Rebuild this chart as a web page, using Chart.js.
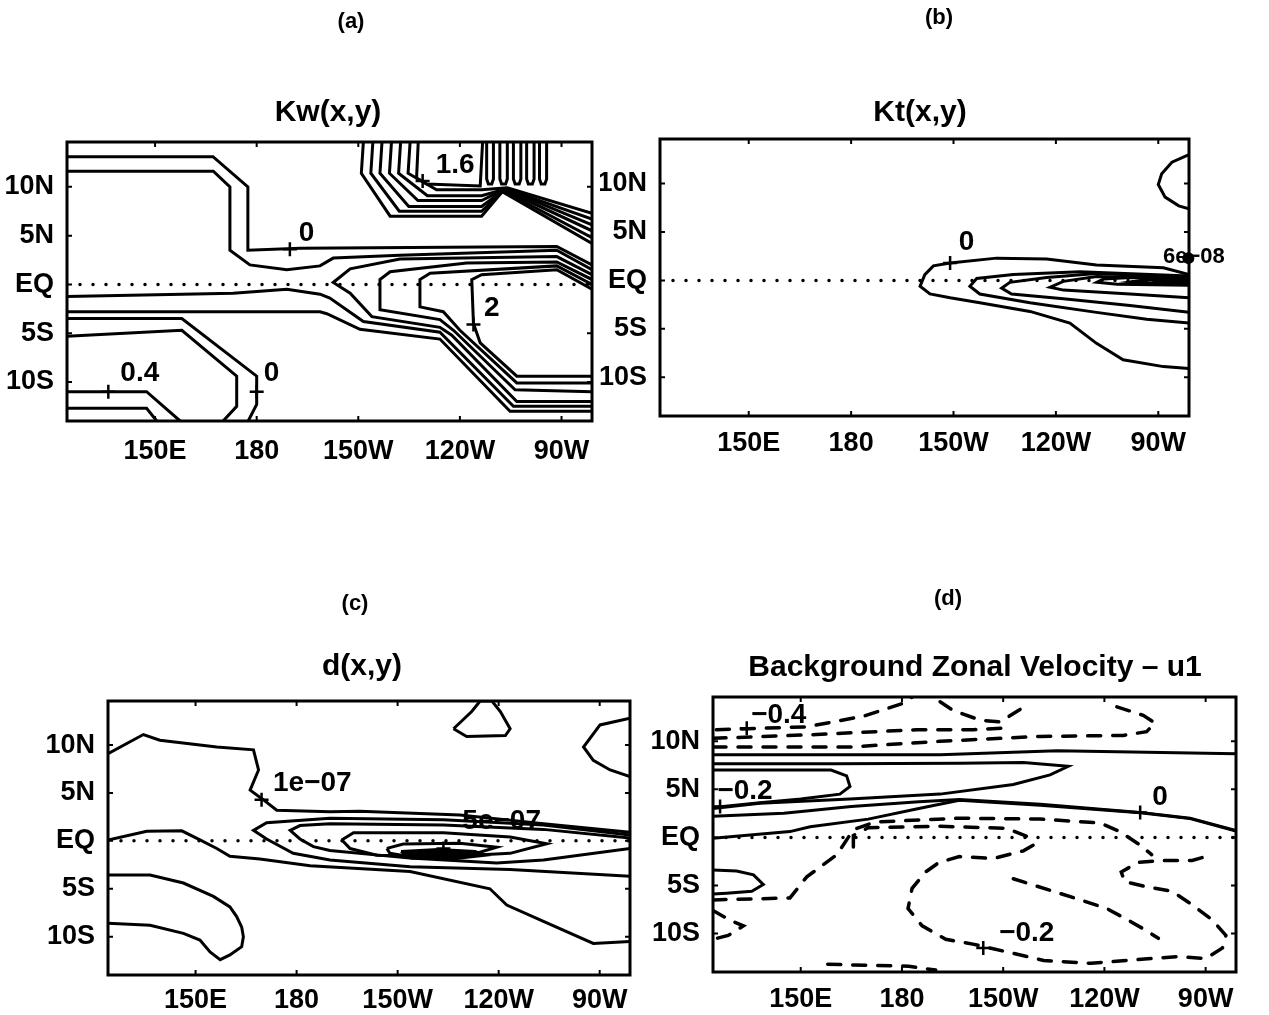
<!DOCTYPE html>
<html>
<head>
<meta charset="utf-8">
<title>Kw, Kt, d and background zonal velocity</title>
<script src="https://cdn.jsdelivr.net/npm/chart.js@4.4.1/dist/chart.umd.min.js"></script>
<style>
  html, body { margin: 0; padding: 0; background: #fff; }
  body { width: 1269px; height: 1015px; position: relative; overflow: hidden; }
  .panel { position: absolute; }
</style>
</head>
<body>
<div class="panel" style="left:0;top:0;width:640px;height:480px"><canvas id="kw"></canvas></div>
<div class="panel" style="left:600px;top:0;width:669px;height:480px"><canvas id="kt"></canvas></div>
<div class="panel" style="left:40px;top:560px;width:640px;height:455px"><canvas id="dd"></canvas></div>
<div class="panel" style="left:650px;top:560px;width:619px;height:455px"><canvas id="u1"></canvas></div>
<script>
// axes shared by all four maps (longitude in degrees east, latitude in degrees)
const lonRange = [124, 279];
const latRange = [-14, 14.6];
const lonTicks = [150, 180, 210, 240, 270];
const lonLabels = ['150E', '180', '150W', '120W', '90W'];
const latTicks = [-10, -5, 0, 5, 10];
const latLabels = ['10S', '5S', 'EQ', '5N', '10N'];
const equator = [[124, 0], [279, 0]];

// (a) Kw(x,y) contours, [lon, lat]
const kwNorth0 = [[124,13.1],[167.1,13.1],[177.4,10.0],[177.4,3.5],[192.8,3.7],[268.6,3.9],[279,2.0]];
const kwNorth1 = [[124,11.6],[167.2,11.6],[172.1,10.0],[172.1,3.5],[178,2.0],[188.9,1.5],[198.7,1.9],[202.6,2.7],[222.3,3.0],[268.6,3.5],[279,1.5]];
const kwTongue1 = [[279,1.0],[268.6,2.85],[222.3,2.6],[207.6,1.6],[202.6,0.2],[207.6,-0.9],[214,-3.3],[234.1,-4.4],[237.6,-5.2],[256.8,-12.0],[279,-12.0]];
const kwTongue2 = [[279,0.5],[268.6,2.3],[242,2.2],[219.4,1.3],[216.4,0.5],[216.4,-2.6],[234.1,-3.6],[238.1,-4.7],[256.3,-10.8],[279,-11.0]];
const kwTongue3 = [[279,0.0],[268.6,1.9],[231.2,1.15],[228.2,0.5],[228.2,-2.3],[235.1,-2.8],[240,-4.7],[256.8,-10.1],[279,-10.1]];
const kwTongue4 = [[279,-0.5],[268.6,1.5],[246.4,1.0],[243.5,0.5],[244,-4.0],[246,-6.0],[256.8,-9.4],[279,-9.4]];
const kwSouth0 = [[124,-1.25],[173.1,-0.9],[188.9,-0.5],[198.7,-1.0],[201.6,-1.4],[211.5,-3.8],[234.1,-4.9],[255.8,-12.5],[279,-12.5]];
const kwSouth1 = [[124,-2.8],[198.7,-2.8],[200.7,-3.0],[210.5,-4.6],[234.1,-5.6],[254.8,-13.0],[279,-13.0]];
const kwWest0 = [[124,-3.5],[157.9,-3.5],[180,-9.4],[180,-12.3],[177.5,-14]];
const kwWest1 = [[124,-5.3],[157.9,-4.7],[174.1,-9.4],[174.1,-12.5],[170.1,-14]];
const kwWest2 = [[124,-11],[147.5,-11],[157.4,-14]];
const kwWest3 = [[124,-12.7],[147.5,-12.7],[150.5,-14]];
const kwCap0 = [[227.7,14.6],[227.2,10.9],[230.2,10.3],[246,10.1],[246.7,14.6]];
const kwCap1 = [[225.3,14.6],[224.7,11.4],[233.1,9.7],[246.4,9.7],[254,9.9],[279,7.3]];
const kwCap2 = [[222.5,14.6],[221.9,11.4],[230.4,9.1],[246.4,9.1],[253.7,9.8],[279,6.7]];
const kwCap3 = [[219.8,14.6],[219.2,11.4],[227.6,8.6],[246.4,8.6],[253.4,9.8],[279,6.1]];
const kwCap4 = [[217,14.6],[216.4,11.4],[224.9,8.0],[246.4,8.0],[253.1,9.7],[279,5.5]];
const kwCap5 = [[214.3,14.6],[213.7,11.4],[222.1,7.5],[246.4,7.5],[252.8,9.6],[279,4.8]];
const kwCap6 = [[211.5,14.6],[210.9,11.4],[219.4,7.0],[246.4,7.0],[252.5,9.5],[279,4.2]];
const kwComb1 = [[247.9,14.6],[247.9,10.8],[248.4,10.3],[249.4,10.3],[249.9,10.8],[249.9,14.6]];
const kwComb2 = [[251.8,14.6],[251.8,10.8],[252.3,10.3],[253.5,10.3],[254.0,10.8],[254.0,14.6]];
const kwComb3 = [[255.8,14.6],[255.8,10.8],[256.3,10.3],[257.5,10.3],[258.0,10.8],[258.0,14.6]];
const kwComb4 = [[259.7,14.6],[259.7,10.8],[260.2,10.3],[261.4,10.3],[261.9,10.8],[261.9,14.6]];
const kwComb5 = [[263.5,14.6],[263.5,10.8],[264.0,10.3],[265.1,10.3],[265.6,10.8],[265.6,14.6]];
const kwLabels = [[194.7,5.2,'0'],[145.5,-9.1,'0.4'],[184.4,-9.1,'0'],[238.6,12.2,'1.6'],[249.4,-2.4,'2']];
const kwMarks = [[189.8,3.6],[136.2,-11.0],[180,-11.0],[229,10.6],[244,-4.1]];

// (b) Kt(x,y) contours
const ktOuter = [[279,0.6],[271.5,1.3],[251.9,1.6],[237.3,2.2],[222.6,2.3],[209,1.8],[204.1,1.5],[201.6,0.6],[200.2,-0.6],[203.1,-1.4],[209,-1.8],[217.7,-2.3],[232.4,-3.2],[244.1,-4.4],[251.9,-6.5],[259.7,-8.2],[271.5,-8.9],[279,-9.1]];
const ktTongue1 = [[279,0.45],[247,0.9],[227.5,0.6],[216.8,0.2],[214.8,-0.6],[217.7,-1.4],[232.4,-2.3],[251.9,-3.3],[266.6,-4.0],[279,-4.4]];
const ktTongue2 = [[279,0.3],[251.9,0.7],[237.3,0.3],[226.5,-0.2],[224.1,-0.8],[227,-1.4],[242.2,-1.9],[261.7,-2.6],[279,-3.3]];
const ktTongue3 = [[279,0.15],[251.9,0.4],[242.2,-0.1],[238.3,-0.7],[242.2,-1.0],[261.7,-1.4],[279,-1.8]];
const ktTongue4 = [[279,0.0],[262,0.3],[254,0.15],[252,-0.2],[258,-0.4],[279,-0.5]];
const ktTongue5 = [[279,-0.15],[266,0.05],[262,-0.15],[267,-0.3],[279,-0.35]];
const ktCorner = [[279,13.0],[274,12.2],[271,11.0],[270,9.9],[272,8.6],[276,7.7],[279,7.4]];
const ktLabels = [[213.8,3.9,'0'],[289.5,2.4,'6e\u221208','right',22]];
const ktMarks = [[209,1.8]];
const ktDots = [[278.8,2.3]];

// (c) d(x,y) contours
const dNorth = [[124,9.1],[134.5,11.1],[139.4,10.5],[156.3,9.8],[167.2,9.5],[168.7,7.4],[166.2,5.3],[170.1,4.3],[174.1,3.2],[189.9,3.05],[198.8,3.1],[228.5,2.7],[253.3,1.8],[279,0.9]];
const dTongue1 = [[279,0.6],[253.3,1.65],[223.6,2.2],[189.9,2.35],[171.1,1.9],[167.2,1.1],[171.1,0.2],[179,-1.3],[189.9,-2.0],[213.7,-2.7],[243.4,-3.0],[279,-3.7]];
const dTongue2 = [[279,0.3],[253.3,1.2],[223.6,1.65],[189.9,1.8],[181,1.6],[178.1,1.1],[181,0.2],[185,-0.6],[189.9,-1.0],[213.7,-1.8],[239.4,-2.3],[253.3,-2.0],[279,-0.8]];
const dCore1 = [[193.4,0.1],[196.9,0.86],[223.6,0.86],[243.4,0.4],[254.3,-0.3],[243.4,-1.3],[223.6,-1.65],[203.8,-1.5],[195.9,-0.8],[193.4,0.1]];
const dCore2 = [[206.8,-0.78],[211.7,-0.33],[228.5,-0.26],[239.4,-0.67],[231.5,-1.5],[213.7,-1.65],[207.7,-1.3],[206.8,-0.78]];
const dCore3 = [[211,-1.1],[222,-0.9],[233,-1.1],[236,-1.5],[226,-1.9],[214,-1.8],[211,-1.1]];
const dSouth = [[124,0.1],[135.5,1.0],[145.9,1.05],[151.3,0.1],[156.3,-0.8],[160.2,-1.6],[169.1,-1.9],[184,-2.6],[213.7,-3.2],[237.4,-5.0],[242.4,-6.7],[253.3,-8.4],[268.1,-10.7],[279,-10.5]];
const dCap = [[226.6,11.7],[232,13.5],[234.5,14.6],[238,14.6],[240.5,13.5],[243.4,11.7],[242,11.0],[230.5,10.9],[226.6,11.7]];
const dEast = [[279,12.8],[270.1,12.1],[265.2,9.8],[268.1,8.4],[273.1,7.4],[279,6.7]];
const dWest = [[124,-3.56],[136.5,-3.56],[146.4,-4.4],[155.3,-5.8],[160.2,-6.9],[162.2,-7.9],[163.7,-9.0],[164.2,-10.0],[163.7,-11.05],[160.2,-11.9],[157.3,-12.4],[154.3,-11.6],[151.3,-10.35],[146.4,-9.65],[136.5,-8.8],[124,-8.6]];
const dLabels = [[173,6.0,'1e\u221207','left'],[240.9,2.0,'5e\u221207']];
const dMarks = [[169.6,4.3],[223.6,-0.8]];

// (d) background zonal velocity u1: solid >= 0, dashed < 0
const uJet = [[124,8.6],[191.3,8.6],[226,9.0],[279,8.7]];
const uLoopB = [[124,7.65],[160,7.65],[197,7.7],[216,7.8],[229.3,7.4],[223.9,6.5],[213,5.5],[191.3,4.5],[164.6,4.0],[137.9,3.55],[124,3.0]];
const uLoopA = [[124,7.0],[159,7.0],[163.6,6.4],[164.6,5.3],[161.6,4.5],[150,4.0],[137.9,3.6],[124,3.1]];
const uZero = [[124,2.2],[145,2.5],[165,3.2],[185,3.7],[197,3.95],[221,3.45],[250.6,2.6],[265.4,2.0],[279,0.7]];
const uEq = [[124,-0.1],[146.8,0.6],[152.8,1.1],[170,1.9],[185,3.0],[197,3.85],[221,3.35],[250.6,2.55],[265.4,1.95],[279,0.65]];
const uSouthPos = [[124,-3.4],[131,-3.5],[136,-3.9],[138.9,-4.9],[135.5,-5.6],[128,-5.8],[124,-5.9]];
const uNeg1 = [[125,11.2],[151.8,11.5],[168.6,12.6],[180.4,13.95],[183,14.6]];
const uNeg2 = [[191.3,14.1],[195.2,13.2],[203.1,12.2],[209.1,12.0],[214.5,13.2],[218,13.95]];
const uNeg3 = [[124,10.3],[154.7,10.7],[184.4,11.2],[201.2,11.2],[212,11.4]];
const uNeg4 = [[124,9.4],[164.6,9.4],[191.3,10.0],[220.9,10.5],[245.6,10.6],[252.5,11.0],[255,11.9],[251.5,12.7],[241.7,13.8]];
const uNegEq = [[124,-6.5],[146.8,-6.3],[151.8,-4.1],[160.7,-1.8],[165.6,0.8],[172,1.6],[197.2,2.0],[220.9,1.9],[238.7,1.5],[244.6,0.6],[250.6,-0.8],[254,-1.8]];
const uNegLoop = [[165.6,-1.0],[165.6,0.2],[170,1.0],[191.3,1.15],[211,0.95],[217,0.1],[219,-0.8],[216,-1.4],[207,-2.2],[197,-2.0],[191,-2.6],[187,-3.6],[183,-5.3],[181.8,-7.4],[186,-9.2],[193,-10.6],[201,-11.1],[211,-11.9],[222,-12.8],[236,-13.1],[250,-12.7],[262,-12.4],[270,-12.6],[275,-11.5],[276,-10.2],[272,-8.6],[266,-7.0],[260,-5.6],[252,-5.1],[246,-4.6],[245,-3.6],[250,-2.6],[258,-2.4],[266,-2.4],[270,-2.0]];
const uNegDiag = [[213,-4.3],[223.9,-5.5],[232,-6.4],[240.7,-7.4],[246,-8.4],[252,-9.6],[256,-10.5]];
const uNegWest = [[124,-7.6],[129,-8.6],[133,-9.2],[128.5,-10.2],[124,-10.6]];
const uNegBottom = [[158,-13.2],[170,-13.3],[182,-13.4],[190,-13.8]];
const uLabels = [[143.5,12.7,'\u22120.4'],[133.5,4.8,'\u22120.2'],[256.5,4.2,'0'],[217,-9.95,'\u22120.2']];
const uMarks = [[134,11.35],[126.1,3.2],[250.6,2.6],[204.1,-11.5]];

const fontFamily = "'Liberation Sans', Arial, Helvetica, sans-serif";
Chart.defaults.font.family = fontFamily;

const solid = pts => ({ data: pts, showLine: true, pointRadius: 0, borderColor: '#000', borderWidth: 3, fill: false });
const dashed = pts => ({ ...solid(pts), borderWidth: 3.5, borderDash: [13, 12], borderCapStyle: 'round' });
const dotted = pts => ({ ...solid(pts), borderWidth: 3.5, borderDash: [0, 13], borderCapStyle: 'round' });
const filled = pts => ({ ...solid(pts), fill: 'shape', backgroundColor: '#000' });

// frame, inward tick marks, contour labels and headings
const panelDecor = {
  id: 'panelDecor',
  afterDatasetsDraw(chart, args, o) {
    const { ctx, chartArea: a, scales } = chart;
    const X = v => scales.x.getPixelForValue(v);
    const Y = v => scales.y.getPixelForValue(v);
    ctx.save();
    ctx.strokeStyle = '#000';
    ctx.fillStyle = '#000';
    ctx.lineWidth = 3;
    ctx.strokeRect(a.left, a.top, a.width, a.height);

    ctx.lineWidth = 2;
    ctx.beginPath();
    lonTicks.forEach(v => {
      const px = X(v);
      ctx.moveTo(px, a.bottom); ctx.lineTo(px, a.bottom - 5);
      ctx.moveTo(px, a.top); ctx.lineTo(px, a.top + 5);
    });
    latTicks.forEach(v => {
      const py = Y(v);
      ctx.moveTo(a.left, py); ctx.lineTo(a.left + 5, py);
      ctx.moveTo(a.right, py); ctx.lineTo(a.right - 5, py);
    });
    ctx.stroke();

    ctx.lineWidth = 2.5;
    ctx.beginPath();
    o.marks.forEach(([lon, lat]) => {
      const px = X(lon), py = Y(lat);
      ctx.moveTo(px - 7, py); ctx.lineTo(px + 7, py);
      ctx.moveTo(px, py - 7); ctx.lineTo(px, py + 7);
    });
    ctx.stroke();

    ctx.textBaseline = 'middle';
    o.labels.forEach(([lon, lat, text, align, size]) => {
      ctx.font = `bold ${size || 28}px ${fontFamily}`;
      ctx.textAlign = align || 'center';
      ctx.fillText(text, X(lon), Y(lat));
    });
    (o.dots || []).forEach(([lon, lat]) => {
      ctx.beginPath();
      ctx.arc(X(lon), Y(lat), 6, 0, Math.PI * 2);
      ctx.fill();
    });

    ctx.textAlign = 'center';
    ctx.font = `bold 22px ${fontFamily}`;
    ctx.fillText(o.letter, o.letterAt[0], o.letterAt[1]);
    ctx.font = `bold 30px ${fontFamily}`;
    ctx.fillText(o.title, o.titleAt[0], o.titleAt[1]);
    ctx.restore();
  }
};

function makePanel(id, datasets, decor, box) {
  const tickFont = { family: fontFamily, size: 27, weight: 'bold' };
  return new Chart(document.getElementById(id), {
    type: 'scatter',
    data: { datasets: datasets.concat([dotted(equator)]) },
    plugins: [panelDecor],
    options: {
      responsive: true,
      maintainAspectRatio: false,
      animation: false,
      events: [],
      layout: { padding: { top: box.top, right: box.right, left: 0, bottom: 0 } },
      plugins: {
        legend: { display: false },
        tooltip: { enabled: false },
        panelDecor: decor
      },
      scales: {
        x: {
          type: 'linear',
          min: lonRange[0],
          max: lonRange[1],
          afterBuildTicks: s => { s.ticks = lonTicks.map(v => ({ value: v })); },
          afterFit: s => { s.height = box.xh; },
          grid: { display: false },
          border: { display: false },
          ticks: {
            color: '#000', font: tickFont, padding: box.xpad, maxRotation: 0, autoSkip: false,
            callback: v => lonLabels[lonTicks.indexOf(v)]
          }
        },
        y: {
          type: 'linear',
          min: latRange[0],
          max: latRange[1],
          afterBuildTicks: s => { s.ticks = latTicks.map(v => ({ value: v })); },
          afterFit: s => { s.width = box.yw; },
          grid: { display: false },
          border: { display: false },
          ticks: {
            color: '#000', font: tickFont, padding: 5, autoSkip: false,
            callback: v => latLabels[latTicks.indexOf(v)]
          }
        }
      }
    }
  });
}

makePanel('kw',
  [kwNorth0, kwNorth1, kwTongue1, kwTongue2, kwTongue3, kwTongue4, kwSouth0, kwSouth1,
   kwWest0, kwWest1, kwWest2, kwWest3, kwCap0, kwCap1, kwCap2, kwCap3, kwCap4, kwCap5, kwCap6,
   kwComb1, kwComb2, kwComb3, kwComb4, kwComb5].map(solid),
  { letter: '(a)', letterAt: [351, 22], title: 'Kw(x,y)', titleAt: [328, 113], labels: kwLabels, marks: kwMarks },
  { top: 142, right: 48, yw: 67, xh: 59, xpad: 6 });

makePanel('kt',
  [ktOuter, ktTongue1, ktTongue2, ktTongue3, ktTongue4, ktTongue5, ktCorner].map(solid),
  { letter: '(b)', letterAt: [339, 18], title: 'Kt(x,y)', titleAt: [320, 113], labels: ktLabels, marks: ktMarks, dots: ktDots },
  { top: 139, right: 80, yw: 60, xh: 64, xpad: 3 });

makePanel('dd',
  [dNorth, dTongue1, dTongue2, dCore1, dCore2, dSouth, dCap, dEast, dWest].map(solid).concat([filled(dCore3)]),
  { letter: '(c)', letterAt: [315, 44], title: 'd(x,y)', titleAt: [322, 107], labels: dLabels, marks: dMarks },
  { top: 141, right: 50, yw: 68, xh: 40, xpad: 1 });

makePanel('u1',
  [uJet, uLoopB, uLoopA, uZero, uEq, uSouthPos].map(solid)
    .concat([uNeg1, uNeg2, uNeg3, uNeg4, uNegEq, uNegLoop, uNegDiag, uNegWest, uNegBottom].map(dashed)),
  { letter: '(d)', letterAt: [298, 39], title: 'Background Zonal Velocity \u2013 u1', titleAt: [325, 108], labels: uLabels, marks: uMarks },
  { top: 137, right: 33, yw: 63, xh: 43, xpad: 3 });
</script>
</body>
</html>
